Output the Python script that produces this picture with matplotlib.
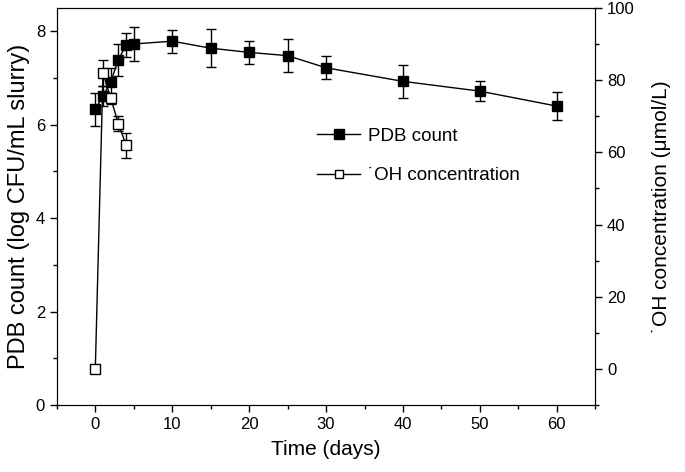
import matplotlib
matplotlib.use("Agg")
import matplotlib.pyplot as plt
from matplotlib.lines import Line2D
from matplotlib.ticker import MultipleLocator

plt.rcParams['font.family'] = ['Liberation Sans', 'DejaVu Sans']

# PDB count (log CFU/mL slurry)
days_pdb = [0, 1, 2, 3, 4, 5, 10, 15, 20, 25, 30, 40, 50, 60]
pdb = [6.33, 6.62, 6.92, 7.39, 7.71, 7.73, 7.79, 7.64, 7.55, 7.48, 7.22, 6.93, 6.72, 6.40]
pdb_err = [0.35, 0.22, 0.30, 0.35, 0.25, 0.37, 0.25, 0.41, 0.25, 0.35, 0.25, 0.35, 0.22, 0.30]

# *OH concentration (umol/L)
days_oh = [0, 1, 2, 3, 4]
oh = [0.0, 82.0, 75.0, 68.0, 62.0]
oh_err = [0.0, 3.5, 1.5, 2.0, 3.5]

fig = plt.figure(figsize=(6.85, 4.72), dpi=100)
ax = fig.add_axes([0.083, 0.142, 0.786, 0.841])
ax2 = ax.twinx()

ax.errorbar(days_pdb, pdb, yerr=pdb_err, color='black', marker='s', markersize=7.5,
            markerfacecolor='black', lw=1, capsize=3.5, elinewidth=1)
ax2.errorbar(days_oh, oh, yerr=oh_err, color='black', marker='s', markersize=6.5,
             markerfacecolor='white', lw=1, capsize=3.5, elinewidth=1)

ax.set_xlim(-5, 65)
ax.set_ylim(0, 8.5)
ax2.set_ylim(-10, 100)
ax.xaxis.set_major_locator(MultipleLocator(10))
ax.xaxis.set_minor_locator(MultipleLocator(5))
ax.yaxis.set_major_locator(MultipleLocator(2))
ax.yaxis.set_minor_locator(MultipleLocator(1))
ax2.yaxis.set_major_locator(MultipleLocator(20))
ax2.yaxis.set_minor_locator(MultipleLocator(10))
for a in (ax, ax2):
    a.tick_params(which='major', length=5, width=1, labelsize=12)
    a.tick_params(which='minor', length=3, width=1)

ax.set_xlabel('Time (days)', fontsize=15, labelpad=6)
ax.set_ylabel('PDB count (log CFU/mL slurry)', fontsize=17, labelpad=4)
ax2.set_ylabel('\u02d9OH concentration (\u03bcmol/L)', fontsize=15, labelpad=12)

h1 = Line2D([], [], color='black', lw=1, marker='s', markersize=7, markerfacecolor='black')
h2 = Line2D([], [], color='black', lw=1, marker='s', markersize=6, markerfacecolor='white')
ax2.legend([h1, h2], ['PDB count', '\u02d9OH concentration'], loc='center left',
           bbox_to_anchor=(317 / 685, 1 - 156 / 472), bbox_transform=fig.transFigure,
           frameon=False, fontsize=13.5, handlelength=2.3, handletextpad=0.4,
           labelspacing=1.2, borderpad=0, borderaxespad=0)

fig.savefig('out.png', dpi=100)
